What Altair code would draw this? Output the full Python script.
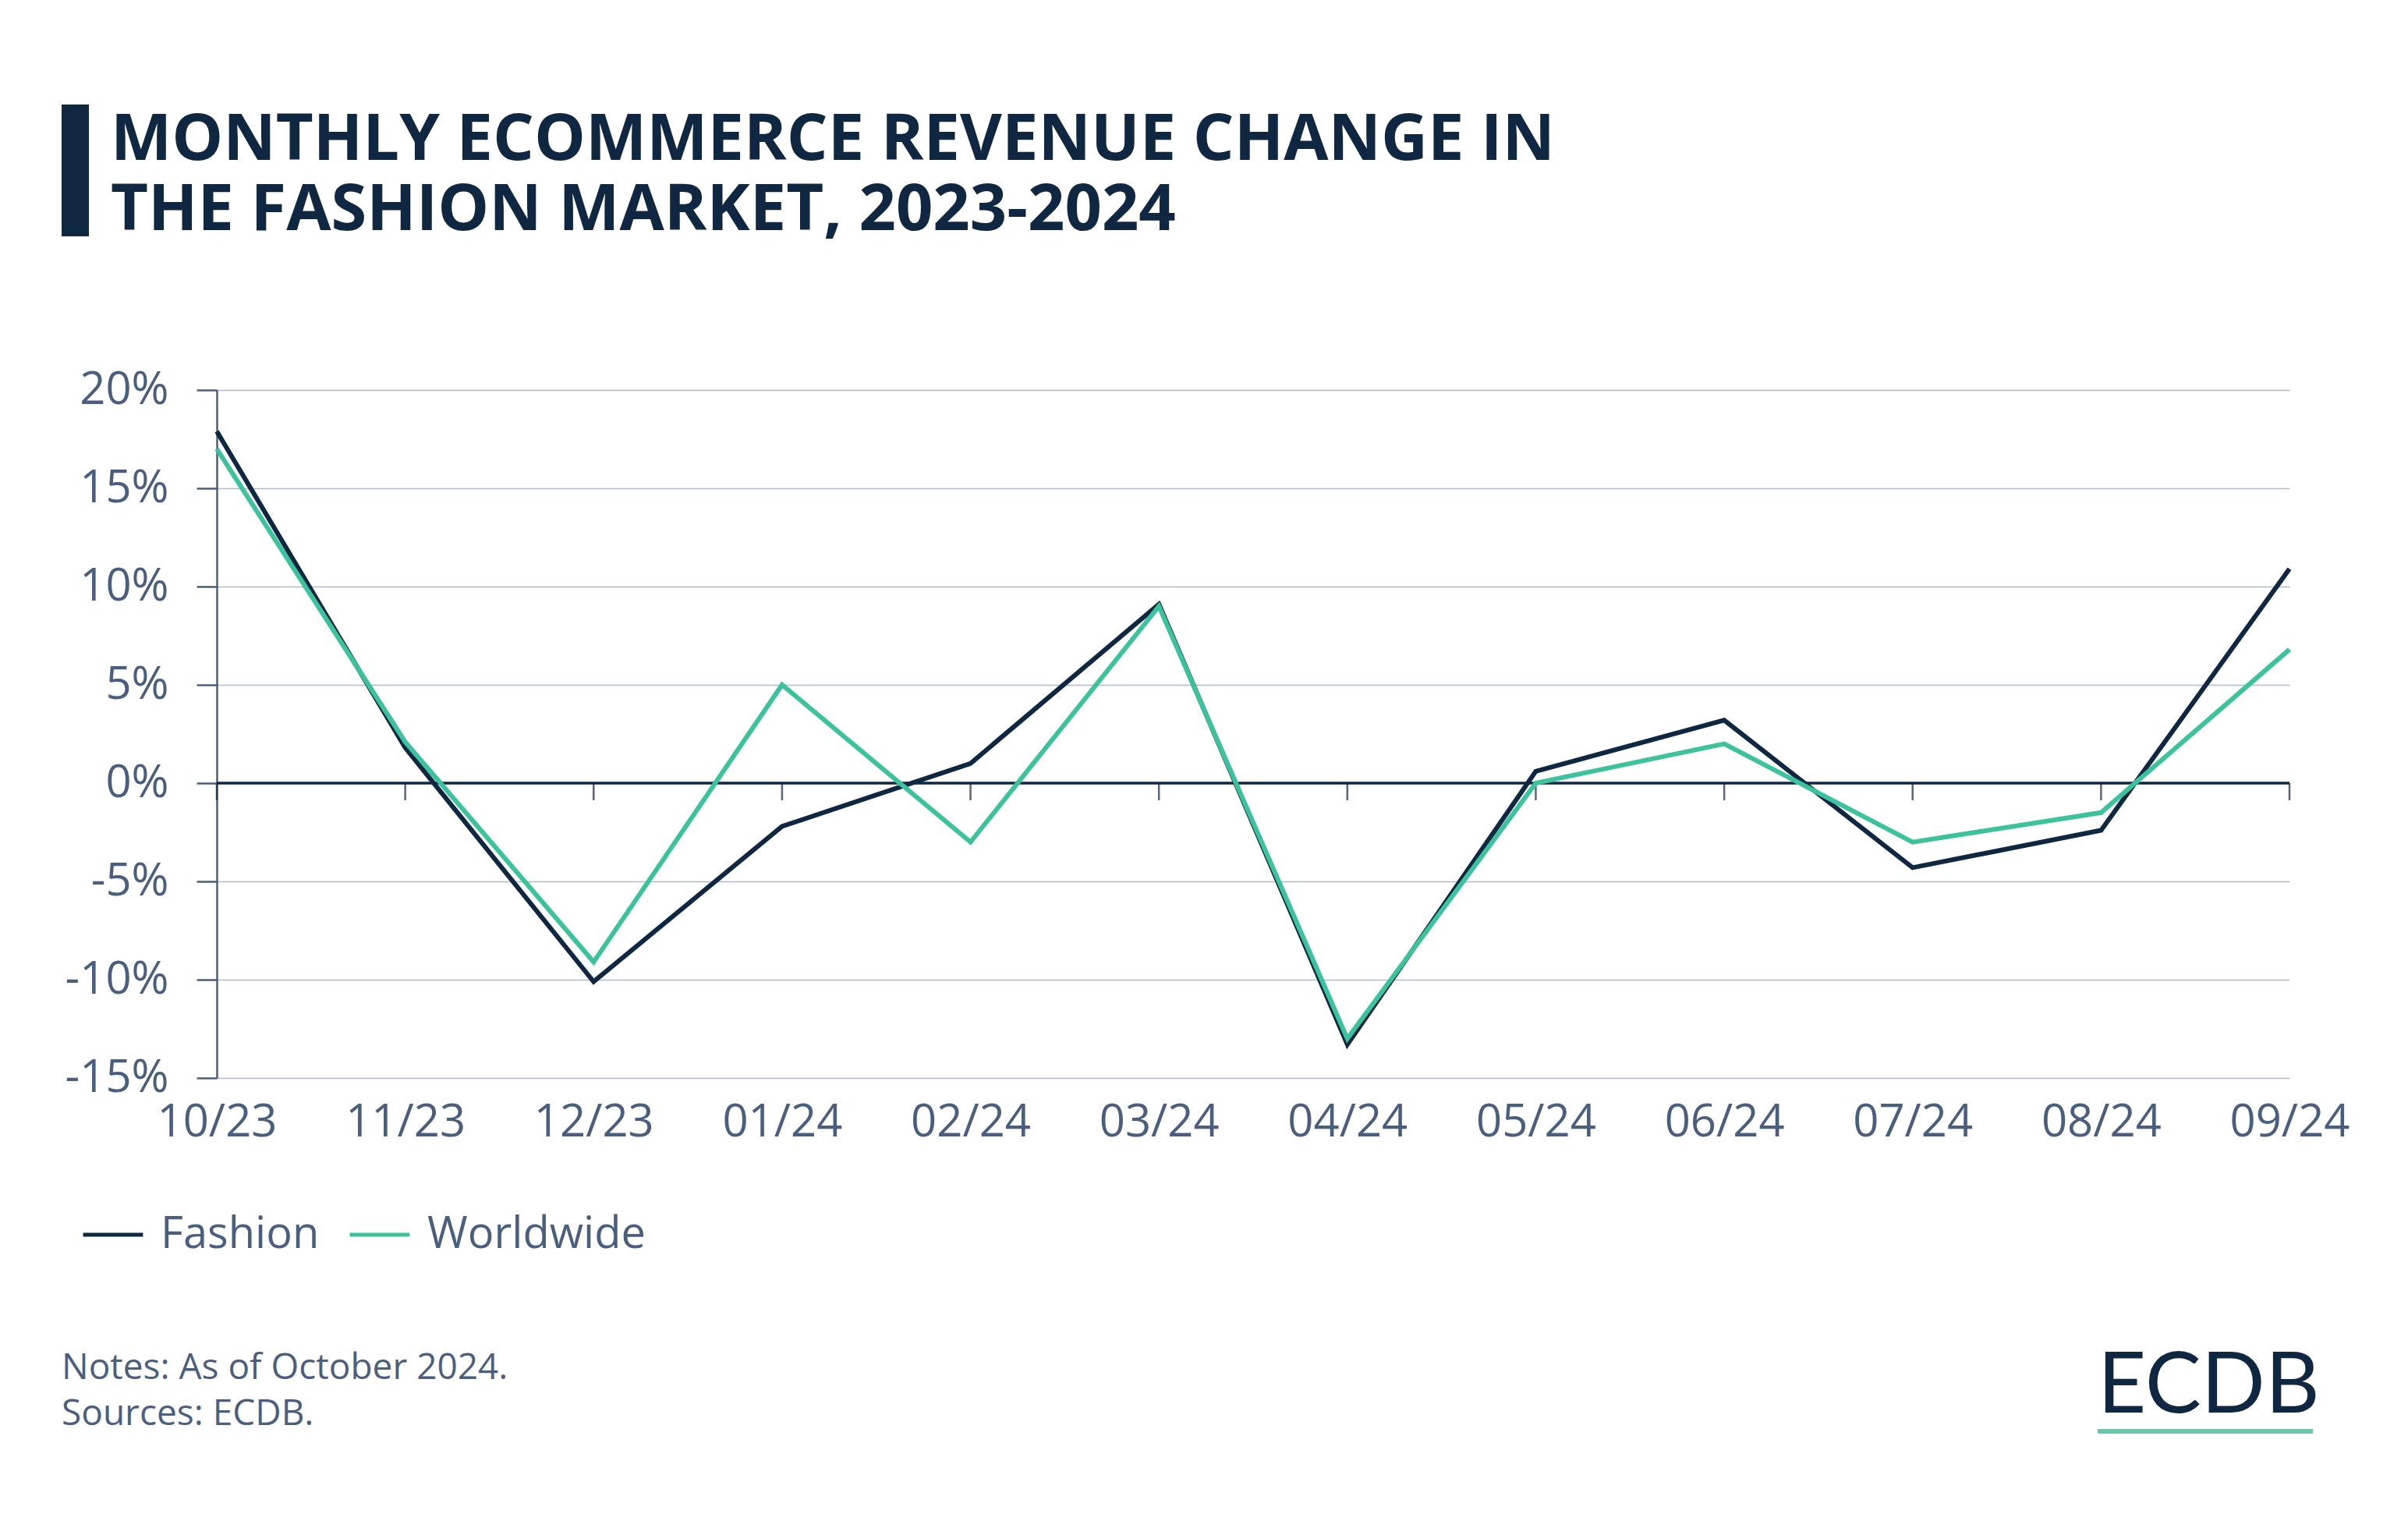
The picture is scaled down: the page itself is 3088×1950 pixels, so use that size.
import altair as alt
import pandas as pd

months = ["10/23", "11/23", "12/23", "01/24", "02/24", "03/24",
          "04/24", "05/24", "06/24", "07/24", "08/24", "09/24"]
fashion = [17.9, 1.8, -10.1, -2.2, 1.0, 9.1, -13.3, 0.6, 3.2, -4.3, -2.4, 10.9]
worldwide = [17.0, 2.1, -9.1, 5.0, -3.0, 9.0, -13.0, 0.0, 2.0, -3.0, -1.5, 6.8]
series_names = ["Fashion", "Worldwide"]
series_colors = ["#0f2741", "#3cc29c"]
y_ticks = [-15, -10, -5, 0, 5, 10, 15, 20]

title_lines = ["MONTHLY ECOMMERCE REVENUE CHANGE IN", "THE FASHION MARKET, 2023-2024"]
notes_lines = ["Notes: As of October 2024.", "Sources: ECDB."]

NAVY = "#0f2741"
SLATE = "#4a5f7e"
FONT = "Open Sans"

rows = []
for m, f, w in zip(months, fashion, worldwide):
    rows.append({"month": m, "series": "Fashion", "value": f})
    rows.append({"month": m, "series": "Worldwide", "value": w})
df = pd.DataFrame(rows)

x_axis = alt.Axis(title=None, labelAngle=0, domain=False, ticks=False, grid=False,
                  labelFontSize=58, labelColor=SLATE, labelFont=FONT, labelPadding=28)
x_scale = alt.Scale(type="point", padding=0)
y_scale = alt.Scale(domain=[-15, 20], nice=False, zero=False)
y_axis = alt.Axis(title=None, values=y_ticks, labelExpr="datum.value + '%'",
                  grid=True, gridColor="#aeb9c9", gridWidth=1.3,
                  domain=True, domainColor=SLATE, domainWidth=2.5,
                  ticks=True, tickColor=SLATE, tickWidth=2.5, tickSize=26,
                  labelFontSize=58, labelColor=SLATE, labelFont=FONT, labelPadding=36)

month_df = pd.DataFrame({"month": months, "value": [0] * len(months)})

zero_rule = alt.Chart(month_df).mark_rule(color=NAVY, strokeWidth=3.5).encode(
    y=alt.Y("value:Q", scale=y_scale, axis=y_axis, title=None)
).transform_filter("datum.month == '10/23'")

zero_ticks = alt.Chart(month_df).mark_tick(
    orient="vertical", size=22, thickness=2.5, color=NAVY, yOffset=11
).encode(
    x=alt.X("month:O", sort=months, scale=x_scale, axis=x_axis, title=None),
    y=alt.Y("value:Q", scale=y_scale, axis=y_axis, title=None),
)

lines = alt.Chart(df).mark_line(strokeWidth=6).encode(
    x=alt.X("month:O", sort=months, scale=x_scale, axis=x_axis, title=None),
    y=alt.Y("value:Q", scale=y_scale, axis=y_axis, title=None),
    color=alt.Color("series:N", scale=alt.Scale(domain=series_names, range=series_colors),
                    legend=alt.Legend(title=None, orient="none", legendX=-174, legendY=1042,
                                      direction="horizontal", symbolType="stroke",
                                      symbolStrokeWidth=5, symbolSize=5900,
                                      labelFontSize=56, labelColor=SLATE, labelFont=FONT,
                                      labelLimit=0, labelOffset=20, columnPadding=28)),
    detail="series:N",
)

title_bar = alt.Chart(pd.DataFrame({"a": [0]})).mark_rect(color=NAVY).encode(
    x=alt.value(-199), x2=alt.value(-164), y=alt.value(-366), y2=alt.value(-197)
)

title_text = alt.Chart(pd.DataFrame({"a": [0]})).mark_text(
    text=title_lines, align="left", baseline="alphabetic", font=FONT, fontWeight="bold",
    fontSize=83, lineHeight=90, color=NAVY
).encode(x=alt.value(-136), y=alt.value(-295))

notes_text = alt.Chart(pd.DataFrame({"a": [0]})).mark_text(
    text=notes_lines, align="left", baseline="alphabetic", font=FONT,
    fontSize=46, lineHeight=59, color=SLATE
).encode(x=alt.value(-199), y=alt.value(1268))

logo_text = alt.Chart(pd.DataFrame({"a": [0]})).mark_text(
    text="ECDB", align="left", baseline="alphabetic", font="Lato",
    fontSize=108, color=NAVY
).encode(x=alt.value(2412), y=alt.value(1311))

logo_rule = alt.Chart(pd.DataFrame({"a": [0]})).mark_rule(color="#6cc5ad", strokeWidth=6).encode(
    x=alt.value(2412), x2=alt.value(2688), y=alt.value(1335)
)

chart = alt.layer(
    zero_rule, zero_ticks, lines, title_bar, title_text, notes_text, logo_text, logo_rule
).properties(
    width=2658, height=882,
    background="white",
    autosize=alt.AutoSizeParams(type="none"),
    padding={"left": 270, "top": 492, "right": 144, "bottom": 540},
).configure_view(stroke=None)

chart.save("out.html", embed_options={"renderer": "svg", "actions": False})
